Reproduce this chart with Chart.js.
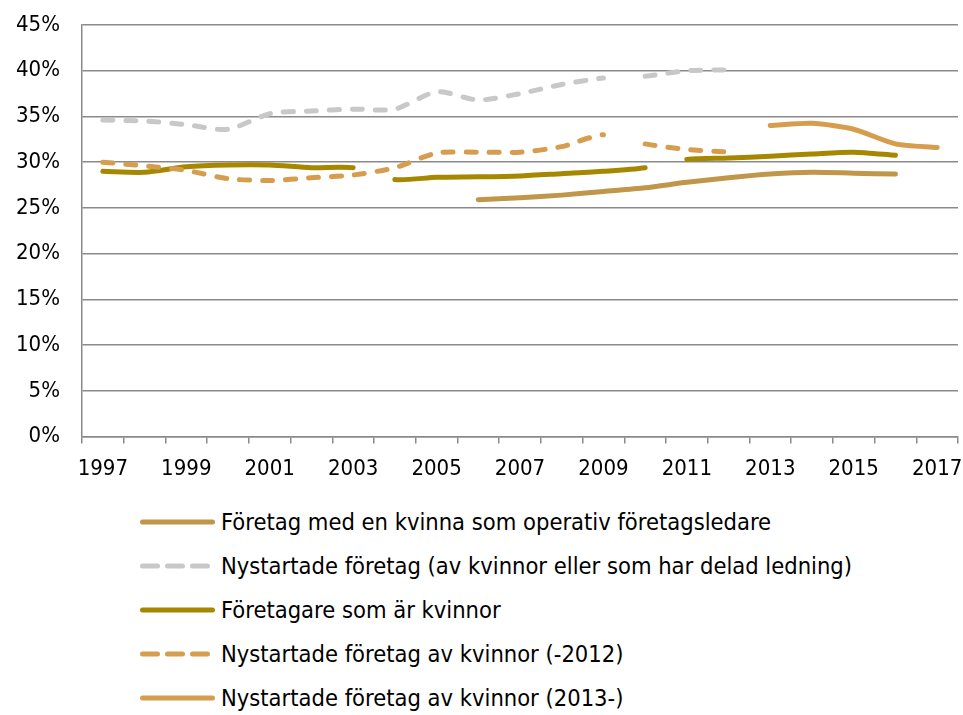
<!DOCTYPE html>
<html>
<head>
<meta charset="utf-8">
<script src="https://cdn.jsdelivr.net/npm/chart.js@4.4.0/dist/chart.umd.min.js"></script>
<style>
    html, body { margin: 0; padding: 0; background: #fff; }
    #wrap { position: relative; width: 963px; height: 715px; }
    #chartBox { position: absolute; left: 0; top: 0; width: 963px; height: 496px; }
    #legend {
        position: absolute; left: 140px; top: 500px; margin: 0; padding: 0; list-style: none;
        font-family: 'DejaVu Sans Condensed', 'DejaVu Sans', sans-serif; font-size: 23.5px; color: #000;
    }
    #legend li { height: 44px; display: flex; align-items: center; white-space: nowrap; }
    #legend svg { margin-right: 6px; }
</style>
</head>
<body>
<div id="wrap">
    <div id="chartBox"><canvas id="womenChart"></canvas></div>
    <ul id="legend"></ul>
</div>
<script>
const years = ['1997', '1998', '1999', '2000', '2001', '2002', '2003', '2004', '2005', '2006', '2007',
    '2008', '2009', '2010', '2011', '2012', '2013', '2014', '2015', '2016', '2017'];

// values in percent
const kvinnaLedare = [null, null, null, null, null, null, null, null, null, 25.9, 26.1,
    26.4, 26.8, 27.2, 27.8, 28.3, 28.7, 28.9, 28.8, 28.7, null];
const nystartadeDelad = [34.6, 34.5, 34.1, 33.6, 35.3, 35.6, 35.8, 35.8, 37.7, 36.8, 37.5,
    38.5, 39.2, 39.4, 40.0, 40.1, null, null, null, null, null];
const foretagareKvinnor = [29.0, 28.9, 29.5, 29.7, 29.7, 29.4, 29.4, 28.1, 28.35, 28.4, 28.5,
    28.75, 29.0, 29.4, 30.3, 30.45, 30.65, 30.9, 31.1, 30.75, null];
const nystartadeTill2012 = [30.0, 29.6, 29.1, 28.2, 28.0, 28.3, 28.6, 29.4, 31.0, 31.1, 31.1,
    31.7, 33.0, 32.0, 31.4, 31.1, null, null, null, null, null];
const nystartadeFran2013 = [null, null, null, null, null, null, null, null, null, null, null,
    null, null, null, null, null, 34.0, 34.25, 33.6, 32.0, 31.6];

// years after which the line is broken
const breaksDelad = ['2009'];
const breaksForetagare = ['2003', '2010'];
const breaksTill2012 = ['2009'];

const yTicks = [0, 5, 10, 15, 20, 25, 30, 35, 40, 45];

const tickFont = { family: "'DejaVu Sans Condensed', 'DejaVu Sans', sans-serif", size: 22 };
const axisColor = '#8a8a8a';

function hideSegments(breaks) {
    return function (ctx) {
        return breaks.includes(years[ctx.p0DataIndex]) ? 'transparent' : undefined;
    };
}

const ctx = document.getElementById('womenChart').getContext('2d');

const womenChart = new Chart(ctx, {
    type: 'line',
    data: {
        labels: years,
        datasets: [{
            label: 'Företag med en kvinna som operativ företagsledare',
            data: kvinnaLedare,
            borderColor: '#C0964A',
            order: 5
        }, {
            label: 'Nystartade företag (av kvinnor eller som har delad ledning)',
            data: nystartadeDelad,
            borderColor: '#C8C8C8',
            borderDash: [10, 13],
            segment: { borderColor: hideSegments(breaksDelad) },
            order: 4
        }, {
            label: 'Företagare som är kvinnor',
            data: foretagareKvinnor,
            borderColor: '#A68800',
            segment: { borderColor: hideSegments(breaksForetagare) },
            order: 3
        }, {
            label: 'Nystartade företag av kvinnor (-2012)',
            data: nystartadeTill2012,
            borderColor: '#D69D4E',
            borderDash: [10, 13],
            segment: { borderColor: hideSegments(breaksTill2012) },
            order: 2
        }, {
            label: 'Nystartade företag av kvinnor (2013-)',
            data: nystartadeFran2013,
            borderColor: '#D69D4E',
            order: 1
        }]
    },
    options: {
        responsive: true,
        maintainAspectRatio: false,
        animation: false,
        layout: {
            padding: { top: 25, right: 5, left: 0, bottom: 2 }
        },
        elements: {
            point: { radius: 0 },
            line: {
                borderWidth: 5,
                borderCapStyle: 'round',
                borderJoinStyle: 'round',
                tension: 0.25
            }
        },
        plugins: {
            legend: { display: false },
            tooltip: { enabled: false }
        },
        scales: {
            x: {
                offset: true,
                afterFit: function (scale) {
                    scale.paddingRight = 0;
                    scale.paddingLeft = 0;
                },
                grid: {
                    offset: true,
                    drawOnChartArea: false,
                    drawTicks: true,
                    tickLength: 7,
                    color: axisColor,
                    lineWidth: 1.5
                },
                border: { color: axisColor, width: 1.5 },
                ticks: {
                    autoSkip: false,
                    maxRotation: 0,
                    padding: 12,
                    color: '#000',
                    font: tickFont,
                    callback: function (value, index) {
                        return index % 2 === 0 ? this.getLabelForValue(value) : '';
                    }
                }
            },
            y: {
                min: 0,
                max: 45,
                afterBuildTicks: function (scale) {
                    scale.ticks = yTicks.map(v => ({ value: v }));
                },
                afterFit: function (scale) {
                    scale.width = 82;
                    scale.paddingTop = 0;
                    scale.paddingBottom = 0;
                },
                grid: { color: axisColor, lineWidth: 1.5, drawTicks: false },
                border: { color: axisColor, width: 1.5 },
                ticks: {
                    padding: 22,
                    color: '#000',
                    font: tickFont,
                    callback: function (value) {
                        return value + '%';
                    }
                }
            }
        }
    }
});

// legend, one item per row, built from the datasets
const legendList = document.getElementById('legend');
womenChart.data.datasets.forEach(function (ds) {
    const li = document.createElement('li');
    const dash = ds.borderDash ? ' stroke-dasharray="15 10"' : '';
    li.innerHTML = '<svg width="75" height="10"><line x1="2.5" y1="5" x2="72.5" y2="5" stroke="' + ds.borderColor +
        '" stroke-width="5" stroke-linecap="round"' + dash + '/></svg>';
    const span = document.createElement('span');
    span.textContent = ds.label;
    li.appendChild(span);
    legendList.appendChild(li);
});
</script>
</body>
</html>
